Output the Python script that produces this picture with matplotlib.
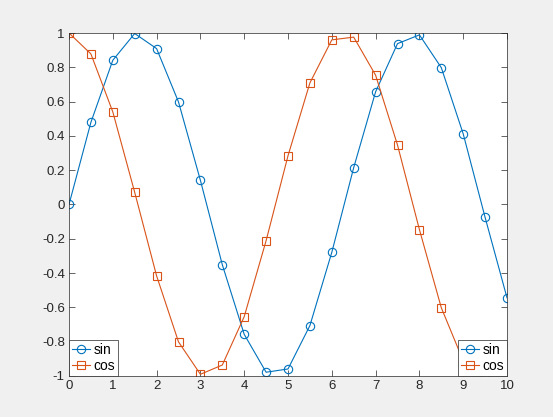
import matplotlib
matplotlib.use("Agg")
import matplotlib.pyplot as plt

x = [0, 0.5, 1, 1.5, 2, 2.5, 3, 3.5, 4, 4.5, 5, 5.5, 6, 6.5, 7, 7.5, 8, 8.5, 9, 9.5, 10]
sin_vals = [0.0, 0.479, 0.841, 0.997, 0.909, 0.598, 0.141, -0.351, -0.757, -0.978,
            -0.959, -0.706, -0.279, 0.215, 0.657, 0.938, 0.989, 0.798, 0.412, -0.075, -0.544]
cos_vals = [1.0, 0.878, 0.540, 0.071, -0.416, -0.801, -0.990, -0.936, -0.654, -0.211,
            0.284, 0.709, 0.960, 0.976, 0.754, 0.347, -0.146, -0.602, -0.911, -0.997, -0.839]
xticks = [0, 1, 2, 3, 4, 5, 6, 7, 8, 9, 10]
yticks = [-1, -0.8, -0.6, -0.4, -0.2, 0, 0.2, 0.4, 0.6, 0.8, 1]
ytick_labels = ["-1", "-0.8", "-0.6", "-0.4", "-0.2", "0", "0.2", "0.4", "0.6", "0.8", "1"]

plt.rcParams['font.family'] = ['Liberation Sans', 'DejaVu Sans']
plt.rcParams['axes.unicode_minus'] = False

fig = plt.figure(figsize=(5.53, 4.17), dpi=100, facecolor='#F0F0F0')
ax = fig.add_axes([69/553, 1-376/417, (507-69)/553, (376-33)/417])
ax.set_facecolor('white')

blue = '#0072BD'
orange = '#D95319'
l1, = ax.plot(x, sin_vals, '-o', color=blue, mfc='none', ms=6, lw=0.8, mew=0.8, label='sin')
l2, = ax.plot(x, cos_vals, '-s', color=orange, mfc='none', ms=5.5, lw=0.8, mew=0.8, label='cos')

ax.set_xlim(0, 10)
ax.set_ylim(-1, 1)
ax.set_xticks(xticks)
ax.set_yticks(yticks)
ax.set_yticklabels(ytick_labels)
ax.tick_params(direction='in', top=True, right=True, length=4, width=0.5,
               labelsize=9.5, colors='#262626', labelcolor='#262626', pad=3)
for s in ax.spines.values():
    s.set_linewidth(0.5)
    s.set_color('#262626')

legkw = dict(borderaxespad=0, fancybox=False, framealpha=1, edgecolor='#262626',
             fontsize=10, handlelength=1.3, handletextpad=0.25, borderpad=0.2,
             labelspacing=0.15)
leg1 = ax.legend(handles=[l1, l2], loc='lower left', **legkw)
leg1.get_frame().set_linewidth(0.5)
ax.add_artist(leg1)
leg2 = ax.legend(handles=[l1, l2], loc='lower right', **legkw)
leg2.get_frame().set_linewidth(0.5)

fig.savefig('out.png', dpi=100, facecolor=fig.get_facecolor())
